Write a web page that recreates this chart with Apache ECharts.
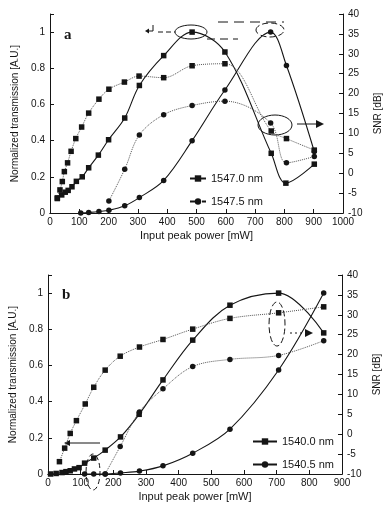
<!DOCTYPE html>
<html>
<head>
<meta charset="utf-8">
<script src="https://cdn.jsdelivr.net/npm/echarts@6/dist/echarts.min.js"></script>
<style>
  html, body { margin: 0; padding: 0; background: #fff; }
  #main { width: 388px; height: 508px; }
</style>
</head>
<body>
<div id="main"></div>
<script>
// panel a, 1547.0 nm
const aTransX0 = [25, 40, 52, 62, 75, 90, 110, 132, 165, 200, 255, 305, 388, 485, 597, 755, 805, 902]
const aTransY0 = [0.08, 0.10, 0.115, 0.125, 0.145, 0.175, 0.2, 0.25, 0.32, 0.405, 0.525, 0.705, 0.87, 1.0, 0.89, 0.33, 0.165, 0.27]
const aSnrX0 = [25, 34, 42, 49, 60, 72, 88, 108, 132, 167, 201, 254, 304, 388, 485, 597, 755, 807, 902]
const aSnrY0 = [-6.2, -4.2, -2.1, 0.4, 2.6, 5.5, 8.7, 11.6, 15.1, 18.6, 21.1, 22.9, 24.4, 24.0, 27.0, 27.5, 10.6, 8.7, 5.8]
// panel a, 1547.5 nm
const aTransX5 = [105, 132, 167, 201, 255, 305, 388, 485, 597, 753, 807, 902]
const aTransY5 = [0.0, 0.003, 0.008, 0.015, 0.04, 0.085, 0.18, 0.40, 0.68, 1.0, 0.815, 0.34]
const aSnrX5 = [201, 255, 305, 388, 485, 597, 753, 807, 902]
const aSnrY5 = [-7.0, 1.0, 9.6, 14.7, 17.0, 18.1, 12.6, 2.6, 4.2]

// panel b, 1540.0 nm
const bTransX0 = [8, 25, 43, 55, 68, 81, 95, 112, 140, 175, 222, 279, 352, 443, 557, 706, 844]
const bTransY0 = [0.0, 0.003, 0.008, 0.013, 0.018, 0.028, 0.035, 0.06, 0.088, 0.132, 0.205, 0.33, 0.52, 0.74, 0.933, 1.0, 0.78]
const bSnrX0 = [35, 51, 68, 87, 114, 140, 175, 221, 280, 352, 443, 557, 706, 844]
const bSnrY0 = [-6.9, -3.5, 0.2, 3.4, 7.6, 11.8, 16.1, 19.6, 21.9, 23.8, 26.4, 29.1, 30.5, 32.0]
// panel b, 1540.5 nm
const bTransX5 = [112, 140, 175, 222, 280, 352, 443, 557, 706, 844]
const bTransY5 = [0, 0, 0, 0.006, 0.016, 0.045, 0.115, 0.248, 0.575, 1.0]
const bSnrX5 = [175, 221, 280, 352, 443, 557, 706, 844]
const bSnrY5 = [-10, -3.1, 5.6, 11.4, 17.0, 18.8, 19.8, 23.5]

const snrTicks = [-10, -5, 0, 5, 10, 15, 20, 25, 30, 35, 40]

const ink = "#151515"
const font = "Liberation Sans, Arial, sans-serif"

const pts = (xs, ys) => xs.map((x, i) => [x, ys[i]])

function solid(name, xi, yi, data, symbol) {
  return {
    name, type: "line", xAxisIndex: xi, yAxisIndex: yi, data,
    smooth: 0.35, symbol, symbolSize: symbol === "rect" ? 5.5 : 5.5,
    lineStyle: { color: ink, width: 1.1 },
    itemStyle: { color: ink }
  }
}
function dotted(name, xi, yi, data, symbol) {
  return {
    name, type: "line", xAxisIndex: xi, yAxisIndex: yi, data,
    smooth: 0.35, symbol, symbolSize: 5.5,
    lineStyle: { color: "#555", width: 1, type: "dotted" },
    itemStyle: { color: ink }
  }
}

function xAxis(grid, max, top) {
  if (top) {
    return {
      gridIndex: grid, type: "value", position: "top", min: 0, max, interval: 100,
      axisLine: { show: true, lineStyle: { color: ink, width: 1, type: [40, 14] } },
      axisTick: { show: false }, axisLabel: { show: false }, splitLine: { show: false }
    }
  }
  return {
    gridIndex: grid, type: "value", min: 0, max, interval: 100,
    name: "Input peak power [mW]", nameLocation: "middle", nameGap: 17,
    nameTextStyle: { fontFamily: font, fontSize: 11, color: ink },
    axisLine: { show: true, onZero: false, lineStyle: { color: ink, width: 1 } },
    axisTick: { show: true, inside: true, length: 4, lineStyle: { color: ink } },
    axisLabel: { fontFamily: font, fontSize: 10, color: ink, margin: 4, formatter: v => String(v) },
    splitLine: { show: false }
  }
}
function leftAxis(grid) {
  return {
    gridIndex: grid, type: "value", position: "left", min: 0, max: 1.1, interval: 0.2,
    name: "Normalized transmission [A.U.]", nameLocation: "middle", nameGap: 24, nameRotate: 90,
    nameTextStyle: { fontFamily: font, fontSize: 10, color: ink },
    axisLine: { show: true, onZero: false, lineStyle: { color: ink, width: 1 } },
    axisTick: { show: true, inside: true, length: 4, lineStyle: { color: ink } },
    axisLabel: {
      fontFamily: font, fontSize: 10, color: ink, margin: 5,
      formatter: v => v > 1.05 ? "" : (v === 0 ? "0" : v === 1 ? "1" : v.toFixed(1))
    },
    splitLine: { show: false }
  }
}
function rightAxis(grid) {
  return {
    gridIndex: grid, type: "value", position: "right", min: snrTicks[0], max: snrTicks[snrTicks.length - 1], interval: 5,
    name: "SNR [dB]", nameLocation: "middle", nameGap: 24, nameRotate: 90,
    nameTextStyle: { fontFamily: font, fontSize: 10, color: ink },
    axisLine: { show: true, onZero: false, lineStyle: { color: ink, width: 1 } },
    axisTick: { show: true, inside: true, length: 4, lineStyle: { color: ink } },
    axisLabel: { fontFamily: font, fontSize: 10, color: ink, margin: 5 },
    splitLine: { show: false }
  }
}

const ellipse = (cx, cy, rx, ry, dash) => ({
  type: "ellipse", shape: { cx, cy, rx, ry },
  style: { fill: null, stroke: ink, lineWidth: 1, lineDash: dash || null }
})
const seg = (x1, y1, x2, y2, dash) => ({
  type: "line", shape: { x1, y1, x2, y2 },
  style: { stroke: ink, lineWidth: 1, lineDash: dash || null }
})
const tri = points => ({ type: "polygon", shape: { points }, style: { fill: ink } })

const chart = echarts.init(document.getElementById("main"), null, { renderer: "canvas" })
chart.setOption({
  animation: false,
  backgroundColor: "#fff",
  grid: [
    { left: 50, right: 45, top: 14, height: 199, outerBoundsMode: "none" },
    { left: 48, right: 46, top: 275, height: 199, outerBoundsMode: "none" }
  ],
  xAxis: [xAxis(0, 1000), xAxis(1, 900), xAxis(0, 1000, true), xAxis(1, 900, true)],
  yAxis: [leftAxis(0), rightAxis(0), leftAxis(1), rightAxis(1)],
  legend: [
    {
      left: 184, top: 168, orient: "vertical", itemGap: 12, itemWidth: 16, itemHeight: 8,
      textStyle: { fontFamily: font, fontSize: 11, color: ink },
      data: [{ name: "1547.0 nm" }, { name: "1547.5 nm", lineStyle: { type: "dashed" } }]
    },
    {
      left: 247, top: 431, orient: "vertical", itemGap: 12, itemWidth: 24, itemHeight: 8,
      textStyle: { fontFamily: font, fontSize: 11, color: ink },
      data: [{ name: "1540.0 nm" }, { name: "1540.5 nm" }]
    }
  ],
  series: [
    solid("1547.0 nm", 0, 0, pts(aTransX0, aTransY0), "rect"),
    solid("1547.5 nm", 0, 0, pts(aTransX5, aTransY5), "circle"),
    dotted("1547.0 nm", 0, 1, pts(aSnrX0, aSnrY0), "rect"),
    dotted("1547.5 nm", 0, 1, pts(aSnrX5, aSnrY5), "circle"),
    solid("1540.0 nm", 1, 2, pts(bTransX0, bTransY0), "rect"),
    solid("1540.5 nm", 1, 2, pts(bTransX5, bTransY5), "circle"),
    dotted("1540.0 nm", 1, 3, pts(bSnrX0, bSnrY0), "rect"),
    dotted("1540.5 nm", 1, 3, pts(bSnrX5, bSnrY5), "circle")
  ],
  graphic: [
    { type: "text", left: 64, top: 28, style: { text: "a", font: "bold 15px Liberation Serif", fill: ink } },
    { type: "text", left: 62, top: 288, style: { text: "b", font: "bold 15px Liberation Serif", fill: ink } },
    // panel a annotations
    ellipse(191, 32, 16, 7),
    ellipse(270, 30, 14, 7, [6, 3]),
    seg(158, 32, 175, 32, [5, 3]),
    seg(207, 39, 238, 39, [8, 5]),
    seg(218, 22, 284, 22, [10, 6]),
    seg(153, 25, 153, 31),
    seg(153, 31, 149, 31),
    tri([[149, 28.5], [145, 31], [149, 33.5]]),
    ellipse(275, 125, 17, 10),
    seg(297, 124, 316, 124),
    tri([[316, 120], [324, 124], [316, 128]]),
    // panel b annotations
    ellipse(93, 472, 7, 18, [5, 3]),
    seg(100, 443, 70, 443),
    tri([[70, 440], [64, 443], [70, 446]]),
    ellipse(277, 324, 8, 22, [6, 3]),
    seg(290, 333, 305, 333, [2, 3]),
    tri([[305, 329], [313, 333], [305, 337]])
  ]
})
</script>
</body>
</html>
